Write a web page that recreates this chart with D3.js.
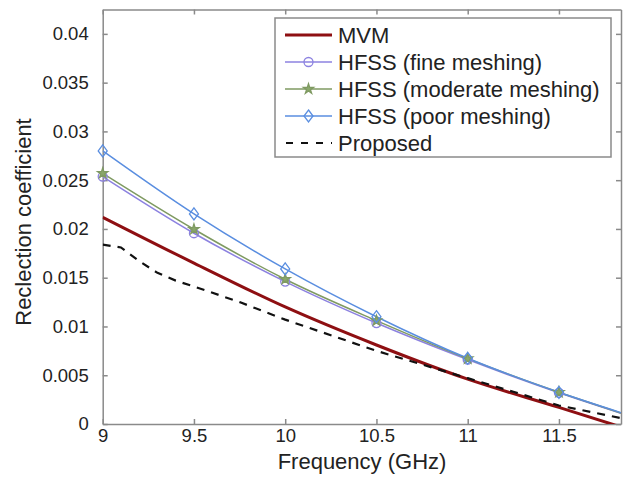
<!DOCTYPE html>
<html><head><meta charset="utf-8">
<script src="https://cdn.jsdelivr.net/npm/d3@7"></script>
<style>body{margin:0;background:#fff}svg{display:block}text{font-family:"Liberation Sans",Arial,sans-serif}</style>
</head><body>
<svg id="c" width="623" height="481"></svg>
<script>
const hfssFreq = [9, 9.5, 10, 10.5, 11, 11.5, 11.84];
const hfssFine = [0.02537, 0.01956, 0.0146, 0.01035, 0.0066, 0.0032, 0.0011];
const hfssModerate = [0.02571, 0.01997, 0.01484, 0.0106, 0.0067, 0.00325, 0.00112];
const hfssPoor = [0.0280, 0.02154, 0.0159, 0.0110, 0.00674, 0.00325, 0.00116];
const mvmFreq = [9, 9.5, 10, 10.5, 11, 11.5, 11.84];
const mvmVals = [0.0212, 0.0165, 0.0120, 0.0081, 0.0046, 0.0017, -0.0003];
const propFreq = [9, 9.1, 9.2, 9.3, 9.4, 9.5, 9.75, 10, 10.25, 10.5, 10.75, 11, 11.25, 11.5, 11.84];
const propVals = [0.0184, 0.0181, 0.0167, 0.0155, 0.0147, 0.0141, 0.0125, 0.0107, 0.0091, 0.0075, 0.0061, 0.0047, 0.0033, 0.0019, 0.0006];
const xTicks = [9, 9.5, 10, 10.5, 11, 11.5];
const yTicks = [0, 0.005, 0.01, 0.015, 0.02, 0.025, 0.03, 0.035, 0.04];
const legendLabels = ["MVM", "HFSS (fine meshing)", "HFSS (moderate meshing)", "HFSS (poor meshing)", "Proposed"];

const L = 102.7, R = 621, T = 9.5, B = 424;
const x = d3.scaleLinear().domain([9, 11.84]).range([L, R]);
const y = d3.scaleLinear().domain([0, 0.0425]).range([B, T]);
const svg = d3.select("#c");

svg.append("defs").append("clipPath").attr("id","clip")
  .append("rect").attr("x",L).attr("y",T).attr("width",R-L).attr("height",B-T);

const axisColor = "#8a8a8a";
const fmt = d => d === 0 ? "0" : String(+d.toFixed(3));
function styleAxis(g){ g.selectAll("path,line").attr("stroke",axisColor).attr("stroke-width",1.5);
  g.selectAll("text").attr("fill","#222").style("font-size","18.5px"); }

svg.append("g").attr("transform",`translate(0,${B})`)
  .call(d3.axisBottom(x).tickValues(xTicks).tickSize(-5).tickSizeOuter(0).tickPadding(5).tickFormat(d=>String(d)))
  .call(styleAxis);
svg.append("g").attr("transform",`translate(0,${T})`)
  .call(d3.axisTop(x).tickValues(xTicks).tickSize(-5).tickSizeOuter(0).tickFormat(""))
  .call(styleAxis);
svg.append("g").attr("transform",`translate(${L},0)`)
  .call(d3.axisLeft(y).tickValues(yTicks).tickSize(-5).tickSizeOuter(0).tickPadding(14).tickFormat(fmt))
  .call(styleAxis);
svg.append("g").attr("transform",`translate(${R},0)`)
  .call(d3.axisRight(y).tickValues(yTicks).tickSize(-5).tickSizeOuter(0).tickFormat(""))
  .call(styleAxis);

const plot = svg.append("g").attr("clip-path","url(#clip)");
const line = d3.line().x(d=>x(d[0])).y(d=>y(d[1]));
const smooth = d3.line().x(d=>x(d[0])).y(d=>y(d[1])).curve(d3.curveMonotoneX);

const series = [
  {name:"fine", vals:hfssFine, color:"#8c82e0", marker:"circle"},
  {name:"moderate", vals:hfssModerate, color:"#7f9a62", marker:"star"},
  {name:"poor", vals:hfssPoor, color:"#5a8ee0", marker:"diamond"}
];
series.forEach(s=>{
  plot.append("path").datum(hfssFreq.map((f,i)=>[f,s.vals[i]]))
    .attr("d",smooth).attr("fill","none").attr("stroke",s.color).attr("stroke-width",1.5);
});
plot.append("path").datum(mvmFreq.map((f,i)=>[f,mvmVals[i]]))
  .attr("d",smooth).attr("fill","none").attr("stroke","#8e0f12").attr("stroke-width",3);
plot.append("path").datum(propFreq.map((f,i)=>[f,propVals[i]]))
  .attr("d",line).attr("fill","none").attr("stroke","#111").attr("stroke-width",2.2).attr("stroke-dasharray","8,7");

function drawMarker(g, m, cx, cy, color){
  let p;
  if (m==="circle") {
    p = g.append("circle").attr("cx",cx).attr("cy",cy).attr("r",4.5).attr("fill","none");
  } else if (m==="star") {
    p = g.append("path").attr("d", d3.symbol(d3.symbolStar,32)()).attr("transform",`translate(${cx},${cy})`)
      .attr("fill","#8aa86a");
  } else {
    p = g.append("path").attr("d", `M0,-6L4.5,0L0,6L-4.5,0Z`).attr("transform",`translate(${cx},${cy})`).attr("fill","none");
  }
  p.attr("stroke",color).attr("stroke-width",1.3);
}
series.forEach(s=>{
  hfssFreq.slice(0,6).forEach((f,i)=>drawMarker(svg, s.marker, x(f), y(s.vals[i]), s.color));
});

// legend
const lg = svg.append("g");
lg.append("rect").attr("x",275).attr("y",18).attr("width",336).attr("height",139)
  .attr("fill","#fff").attr("stroke",axisColor).attr("stroke-width",1.5);
const ly = [35, 62, 89, 116, 143];
const lstyle = [
  {color:"#8e0f12", w:3, dash:null, marker:null},
  {color:"#8c82e0", w:1.5, dash:null, marker:"circle"},
  {color:"#7f9a62", w:1.5, dash:null, marker:"star"},
  {color:"#5a8ee0", w:1.5, dash:null, marker:"diamond"},
  {color:"#111", w:2.2, dash:"8,7", marker:null}
];
legendLabels.forEach((t,i)=>{
  const st = lstyle[i];
  const ln = lg.append("line").attr("x1",285).attr("x2",332).attr("y1",ly[i]).attr("y2",ly[i])
    .attr("stroke",st.color).attr("stroke-width",st.w);
  if (st.dash) ln.attr("stroke-dasharray","7,8").attr("stroke-dashoffset",-1);
  if (st.marker) drawMarker(lg, st.marker, 308.5, ly[i], st.color);
  lg.append("text").attr("x",338).attr("y",ly[i]).attr("dy","0.36em").attr("fill","#222")
    .style("font-size","22px").text(t);
});

svg.append("text").attr("x",362).attr("y",469).attr("text-anchor","middle").attr("fill","#222")
  .style("font-size","22px").text("Frequency (GHz)");
svg.append("text").attr("transform","translate(31,222) rotate(-90)").attr("text-anchor","middle").attr("fill","#222")
  .style("font-size","22px").text("Reclection coefficient");
</script>
</body></html>
